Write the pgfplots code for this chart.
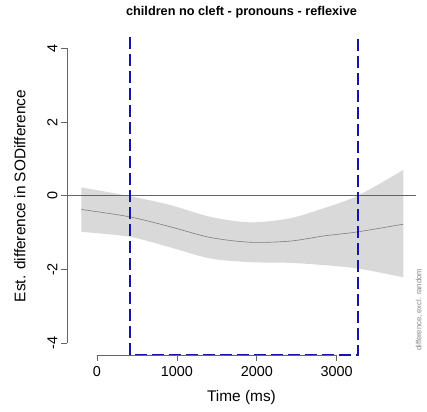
\documentclass[border=0pt]{standalone}
\usepackage{fontspec}
\setmainfont{Liberation Sans}
\usepackage{pgfplots}
\usepackage{pgfplotstable}
\pgfplotsset{compat=1.18}
\usepgfplotslibrary{fillbetween}

\definecolor{sigblue}{RGB}{20,20,170}
\definecolor{bandgray}{RGB}{217,217,217}
\definecolor{fitgray}{RGB}{125,125,125}
\definecolor{axgray}{RGB}{100,100,100}

% time, fitted difference, upper and lower CI
\pgfplotstableread{
t     fit    up     lo
-196  -0.37   0.23  -0.98
408   -0.57  -0.01  -1.11
916   -0.84  -0.25  -1.40
1416  -1.13  -0.57  -1.70
1916  -1.26  -0.72  -1.80
2416  -1.23  -0.61  -1.82
2833  -1.09  -0.34  -1.88
3258  -0.98   0.00  -1.97
3833  -0.77   0.70  -2.21
}\difftab

\begin{document}
\begin{tikzpicture}
\begin{axis}[
    at={(0,0)}, anchor=south west,
    scale only axis, width=349pt, height=318pt,
    xmin=-375, xmax=3992, ymin=-4.32, ymax=4.31,
    clip=false,
    axis line style={draw=none},
    tick align=outside, xtick pos=bottom, ytick pos=left,
    major tick length=6pt,
    tick style={axgray, line width=0.7pt},
    xtick={0,1000,2000,3000}, ytick={-4,-2,0,2,4},
    /pgf/number format/assume math mode=true,
    /pgf/number format/1000 sep={},
    ticklabel style={font=\fontsize{14.4}{17}\selectfont},
    xticklabel style={yshift=-2pt},
    yticklabel style={rotate=90, anchor=south},
    title={children no cleft - pronouns - reflexive},
    title style={font=\fontsize{12.7}{15}\selectfont\bfseries,
        at={(axis description cs:0.5,1.060)}, anchor=center},
    xlabel={Time (ms)},
    xlabel style={font=\fontsize{15.4}{18}\selectfont,
        at={(axis description cs:0.5,-0.135)}, anchor=center},
    ylabel={Est. difference in SODifference},
    ylabel style={font=\fontsize{15.4}{18}\selectfont,
        at={(axis description cs:-0.135,0.5)}, anchor=center, rotate=0},
]
\addplot[name path=up, draw=none, smooth] table[x=t, y=up] {\difftab};
\addplot[name path=lo, draw=none, smooth] table[x=t, y=lo] {\difftab};
\addplot[bandgray] fill between[of=up and lo];
\addplot[fitgray, line width=0.6pt, smooth] table[x=t, y=fit] {\difftab};
\addplot[axgray, line width=0.8pt] coordinates {(-437,0) (3992,0)};
\addplot[sigblue, line width=1.6pt, dash pattern=on 12pt off 5pt]
    coordinates {(415,4.31) (415,-4.32) (3265,-4.32) (3265,4.31)};
\draw[axgray, line width=0.7pt] (axis cs:-375,-4) -- (axis cs:-375,4);
\draw[axgray, line width=0.7pt] (axis cs:0,-4.32) -- (axis cs:3000,-4.32);
\node[rotate=90, text=gray, font=\fontsize{7.6}{9}\selectfont]
    at (axis cs:4030,-3.1) {difference, excl. random};
\end{axis}
\pgfresetboundingbox
\path[use as bounding box] (-67pt,-56pt) rectangle (360pt,355pt);
\end{tikzpicture}
\end{document}
